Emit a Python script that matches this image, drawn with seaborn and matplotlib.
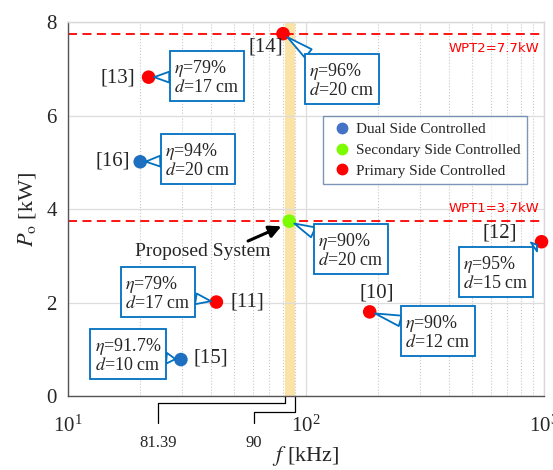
import numpy as np
import pandas as pd
import matplotlib
matplotlib.use("Agg")
import matplotlib.pyplot as plt
import seaborn as sns
from matplotlib.transforms import blended_transform_factory
from matplotlib.lines import Line2D

# ---- data ----
refs = ["[14]", "[13]", "[16]", "Proposed", "[12]", "[11]", "[10]", "[15]"]
freq_khz = [80, 21.8, 20.1, 85, 975, 42, 185, 29.8]
power_kw = [7.75, 6.82, 5.01, 3.74, 3.30, 2.01, 1.80, 0.78]
control = ["Primary Side Controlled", "Primary Side Controlled", "Dual Side Controlled",
           "Secondary Side Controlled", "Primary Side Controlled", "Primary Side Controlled",
           "Primary Side Controlled", "Dual Side Controlled"]
efficiency = ["96%", "79%", "94%", "90%", "95%", "79%", "90%", "91.7%"]
distance_cm = ["20", "17", "20", "20", "15", "17", "12", "10"]
band_khz = [81.39, 90]
wpt_levels = [7.75, 3.75]
wpt_labels = ["WPT2=7.7kW", "WPT1=3.7kW"]
categories = ["Dual Side Controlled", "Secondary Side Controlled", "Primary Side Controlled"]
palette = {"Dual Side Controlled": "#1F6FC0", "Secondary Side Controlled": "#7CFC00",
           "Primary Side Controlled": "#FF0000"}
legend_colors = {"Dual Side Controlled": "#4472C4", "Secondary Side Controlled": "#7CFC00",
                 "Primary Side Controlled": "#FF0000"}

df = pd.DataFrame({"ref": refs, "f": freq_khz, "P": power_kw, "ctrl": control,
                   "eta": efficiency, "d": distance_cm})

sns.set_theme(style="white")
plt.rcParams["font.family"] = ["Liberation Serif", "DejaVu Serif"]
plt.rcParams["mathtext.fontset"] = "stix"

fig = plt.figure(figsize=(5.53, 4.70), dpi=100)
ax = fig.add_axes([0.123, 0.1574, 0.861, 0.7958])

ax.set_xscale("log")
ax.set_xlim(10, 1000)
ax.set_ylim(0, 8)

# band
ax.axvspan(band_khz[0], band_khz[1], color="#FBE3A6", zorder=0.5, lw=0)

# grid
ax.grid(True, which="major", color="#DDDDDD", lw=0.9, ls="-", zorder=0)
ax.grid(True, which="minor", axis="x", color="#C8C8C8", lw=0.8, ls=":", zorder=0)
ax.set_yticks([0, 2, 4, 6, 8])

# dashed WPT lines
for lvl in wpt_levels:
    ax.axhline(lvl, color="#FF0000", ls=(0, (5, 3)), lw=1.3, zorder=1)
ax.text(950, wpt_levels[0] - 0.18, wpt_labels[0], color="#FF0000", fontsize=9.5,
        family="DejaVu Sans", ha="right", va="top")
ax.text(950, wpt_levels[1] + 0.12, wpt_labels[1], color="#FF0000", fontsize=9.5,
        family="DejaVu Sans", ha="right", va="bottom")

sns.scatterplot(data=df, x="f", y="P", hue="ctrl", hue_order=categories, palette=palette,
                s=95, edgecolor="none", ax=ax, legend=False, zorder=5, clip_on=False)

# labels
def px2data(px, py):
    return 10 ** (1 + (px - 68) / 238.0), (396 - py) / 46.75

label_pos = {"[14]": (266, 47), "[13]": (118, 78), "[16]": (113, 161),
             "[12]": (500, 233), "[11]": (247, 302), "[10]": (377, 293),
             "[15]": (211, 358)}
for r, (px, py) in label_pos.items():
    x, y = px2data(px, py)
    ax.text(x, y, r, fontsize=15, ha="center", va="center", zorder=6)

# callouts: text box center pixel
callouts = {"[13]": (207, 77), "[16]": (198, 160), "[14]": (342, 80), "Proposed": (351, 250),
            "[11]": (158, 293), "[15]": (128, 355), "[10]": (438, 332), "[12]": (496, 273)}
for i, row in df.iterrows():
    cx, cy = px2data(*callouts[row["ref"]])
    txt = "$\\eta$=%s\n$d$=%s cm" % (row["eta"], row["d"])
    ax.annotate(txt, xy=(row["f"], row["P"]), xytext=(cx, cy), fontsize=13,
                ha="center", va="center", multialignment="left", linespacing=1.05, zorder=7,
                bbox=dict(boxstyle="square,pad=0.25", fc="white", ec="#0070C0", lw=1.3),
                arrowprops=dict(arrowstyle="wedge,tail_width=0.6,shrink_factor=0.5",
                                fc="white", ec="#0070C0", lw=1.3, shrinkA=0, shrinkB=4),
                annotation_clip=False)

# Proposed system label + arrow
px_, py_ = px2data(203, 251)
ax.text(px_, py_, "Proposed System", fontsize=14, ha="center", va="center", zorder=6)
ax.annotate("", xy=(df.loc[3, "f"] * 0.985, df.loc[3, "P"] - 0.05), xytext=px2data(248, 241),
            arrowprops=dict(arrowstyle="-|>,head_length=0.6,head_width=0.3", color="black",
                            lw=2.2, shrinkA=0, shrinkB=5), zorder=6)

# spines
for s in ["top", "right"]:
    ax.spines[s].set_color("#D8D8D8")
    ax.spines[s].set_linewidth(1.0)
for s in ["left", "bottom"]:
    ax.spines[s].set_color("#555555")
    ax.spines[s].set_linewidth(1.0)

ax.tick_params(axis="y", labelsize=15, length=0, pad=8)
ax.tick_params(axis="x", which="major", labelsize=15, length=0, pad=14)
ax.tick_params(axis="x", which="minor", length=0)
ax.set_xlabel("$f$ [kHz]", fontsize=16, labelpad=5)
ax.set_ylabel("$P_{\\rm o}$ [kW]", fontsize=16, labelpad=6)

# brackets below axis
tr = blended_transform_factory(ax.transData, ax.transAxes)
brk = [(band_khz[0], -0.0187, px2data(158, 0)[0]), (band_khz[1], -0.0428, px2data(254, 0)[0])]
for xv, yh, xl in brk:
    ax.plot([xv, xv, xl, xl], [0, yh, yh, -0.0722], color="black", lw=0.9,
            transform=tr, clip_on=False)
    ax.text(xl, -0.105, ("%.2f" % xv) if xv % 1 else "%d" % xv, fontsize=12, ha="center",
            va="top", transform=tr)

# legend
handles = [Line2D([], [], marker="o", ls="", color=legend_colors[c], markersize=7.5) for c in categories]
leg = ax.legend(handles, categories, loc="upper left", bbox_to_anchor=(0.536, 0.749),
                borderaxespad=0, fontsize=11, frameon=True, fancybox=False,
                handletextpad=0.2, borderpad=0.45, labelspacing=0.45, handlelength=1.5)
leg.get_frame().set_edgecolor("#5B7BA6")
leg.get_frame().set_linewidth(1.0)
leg.set_zorder(8)

fig.savefig("out.png", dpi=100)
